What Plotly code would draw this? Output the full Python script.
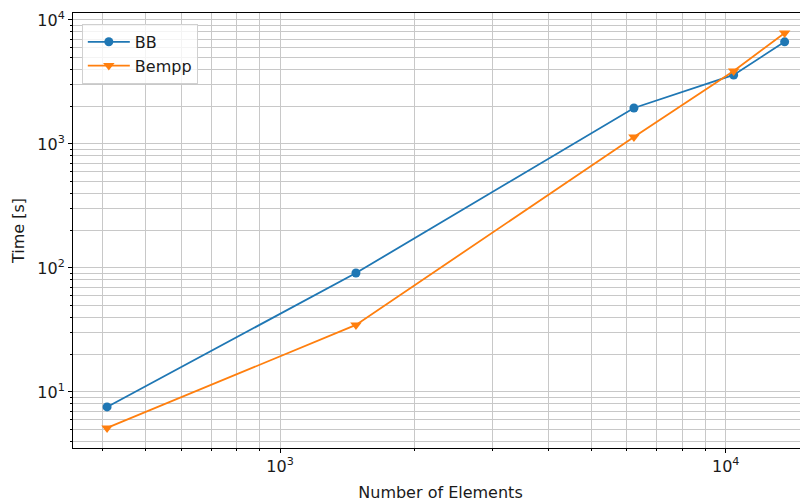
import plotly.graph_objects as go
import numpy as np

elements = [409, 1480, 6224, 10420, 13560]
bb_time = [7.57, 91, 1950, 3600, 6660]
bempp_time = [5.13, 34.7, 1140, 3880, 7850]

x_tickvals = [1e3, 1e4]
x_ticktext = ["10<sup>3</sup>", "10<sup>4</sup>"]
y_tickvals = [1e1, 1e2, 1e3, 1e4]
y_ticktext = ["10<sup>1</sup>", "10<sup>2</sup>", "10<sup>3</sup>", "10<sup>4</sup>"]

fig = go.Figure()
fig.add_trace(go.Scatter(x=elements, y=bb_time, mode="lines+markers", name="BB",
                         line=dict(color="#1f77b4", width=1.8),
                         marker=dict(symbol="circle", size=9, color="#1f77b4")))
fig.add_trace(go.Scatter(x=elements, y=bempp_time, mode="lines+markers", name="Bempp",
                         line=dict(color="#ff7f0e", width=1.8),
                         marker=dict(symbol="triangle-down", size=10, color="#ff7f0e")))

grid = "#c8c8c8"
txt = "#1a1a1a"
fs = 16
axis_common = dict(type="log", showline=True, linecolor="black", linewidth=1,
                   ticks="outside", ticklen=4, tickcolor="black", showgrid=True,
                   gridcolor=grid, gridwidth=1, zeroline=False, automargin=False,
                   tickfont=dict(family="DejaVu Sans", size=fs, color=txt),
                   minor=dict(showgrid=True, gridcolor=grid, gridwidth=1, ticks="outside",
                              ticklen=2, tickcolor="black", dtick="D1"))

fig.update_xaxes(**axis_common, mirror=True, range=[np.log10(343), np.log10(15300)],
                 tickvals=x_tickvals, ticktext=x_ticktext,
                 title=dict(text="Number of Elements", font=dict(family="DejaVu Sans", size=fs, color=txt), standoff=12))
fig.update_yaxes(**axis_common, mirror=False, range=[0.548, 4.056],
                 tickvals=y_tickvals, ticktext=y_ticktext,
                 title=dict(text="Time [s]", font=dict(family="DejaVu Sans", size=fs, color=txt), standoff=8))

fig.update_layout(width=800, height=494, margin=dict(l=65, r=0, t=5, b=54),
                  plot_bgcolor="white", paper_bgcolor="white",
                  font=dict(family="DejaVu Sans", size=fs, color=txt),
                  legend=dict(x=0.012, y=0.975, xanchor="left", yanchor="top", itemwidth=42,
                              bgcolor="rgba(255,255,255,0.8)", bordercolor="#d0d0d0", borderwidth=1,
                              font=dict(family="DejaVu Sans", size=fs, color=txt)))

fig.write_html("out.html")
